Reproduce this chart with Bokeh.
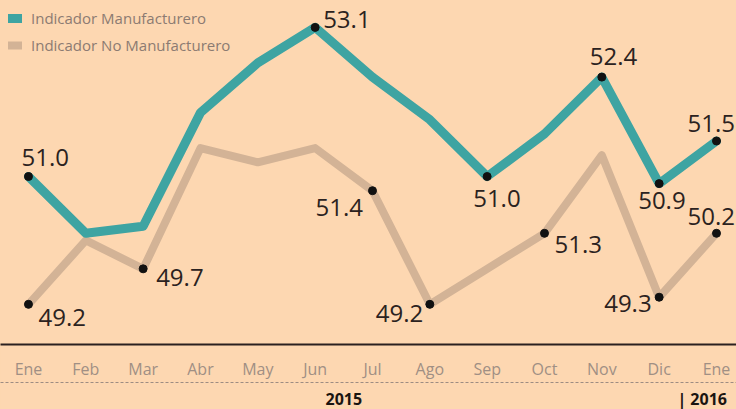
from bokeh.plotting import figure
from bokeh.models import Range1d, LinearAxis, FixedTicker, Legend, LegendItem, ColumnDataSource
from bokeh.core.properties import value
from bokeh.embed import file_html
from bokeh.resources import INLINE

# ---- data ----
months = ["Ene", "Feb", "Mar", "Abr", "May", "Jun", "Jul", "Ago", "Sep", "Oct", "Nov", "Dic", "Ene"]
manuf = [51.0, 50.2, 50.3, 51.9, 52.6, 53.1, 52.4, 51.8, 51.0, 51.6, 52.4, 50.9, 51.5]
no_manuf = [49.2, 50.1, 49.7, 51.4, 51.2, 51.4, 50.8, 49.2, 49.7, 50.2, 51.3, 49.3, 50.2]
manuf_label_idx = [0, 5, 8, 10, 11, 12]
manuf_labels = ["51.0", "53.1", "51.0", "52.4", "50.9", "51.5"]
no_manuf_label_idx = [0, 2, 6, 7, 9, 11, 12]
no_manuf_labels = ["49.2", "49.7", "51.4", "49.2", "51.3", "49.3", "50.2"]
years = ["2015", "| 2016"]
series_names = ["Indicador Manufacturero", "Indicador No Manufacturero"]

# ---- styles ----
BG = "#fdd7b1"
TEAL = "#3ea4a2"
TAN = "#d3b396"
FONT = "Open Sans"
manuf_dx = [-7, 8, -14, -12, -21, -29]
manuf_dy = [-19, -8, 22, -21, 17, -18]
no_manuf_dx = [10, 13, -57, -54, 10, -55, -29]
no_manuf_dy = [13, 9, 17, 9, 11, 6, -17]

xs = list(range(len(months)))

p = figure(frame_width=736, frame_height=344, output_backend="svg", toolbar_location=None,
           x_range=Range1d(-0.488, 12.349), y_range=Range1d(48.634, 53.479),
           x_axis_type=None, y_axis_type=None, min_border=0)
p.background_fill_color = BG
p.border_fill_color = BG
p.outline_line_color = None
p.xgrid.visible = False
p.ygrid.visible = False

r2 = p.line(xs, no_manuf, line_color=TAN, line_width=8, line_join="round", line_cap="round")
r1 = p.line(xs, manuf, line_color=TEAL, line_width=9, line_join="round", line_cap="round")

src1 = ColumnDataSource(dict(x=[xs[i] for i in manuf_label_idx], y=[manuf[i] for i in manuf_label_idx],
                             t=manuf_labels, dx=manuf_dx, dy=manuf_dy))
src2 = ColumnDataSource(dict(x=[xs[i] for i in no_manuf_label_idx], y=[no_manuf[i] for i in no_manuf_label_idx],
                             t=no_manuf_labels, dx=no_manuf_dx, dy=no_manuf_dy))
for s in (src1, src2):
    p.scatter("x", "y", source=s, size=8, color="#111111")
    p.text("x", "y", text="t", source=s, x_offset="dx", y_offset="dy",
           text_font=value(FONT), text_font_size="24px", text_color="#2b2220",
           text_baseline="middle", text_align="left")

legend = Legend(items=[LegendItem(label=series_names[0], renderers=[r1]),
                       LegendItem(label=series_names[1], renderers=[r2])],
                location="top_left")
legend.background_fill_alpha = 0
legend.border_line_color = None
legend.margin = 8
legend.padding = 0
legend.glyph_width = 14
legend.glyph_height = 18
legend.label_height = 18
legend.spacing = 7
legend.label_standoff = 9
legend.label_text_font = FONT
legend.label_text_font_size = "15px"
legend.label_text_color = "#8c7b72"
p.add_layout(legend)

# month axis
ax = LinearAxis(ticker=FixedTicker(ticks=xs))
ax.major_label_overrides = {i: m for i, m in enumerate(months)}
ax.axis_line_color = "#2a2020"
ax.axis_line_width = 2
ax.major_tick_line_color = None
ax.minor_tick_line_color = None
ax.major_tick_out = 0
ax.major_tick_in = 0
ax.major_label_standoff = 13
ax.major_label_text_font = FONT
ax.major_label_text_font_size = "16px"
ax.major_label_text_color = "#a08f84"
p.add_layout(ax, "below")

# year axis
year_ticks = [5.5, 11.75]
ay = LinearAxis(ticker=FixedTicker(ticks=year_ticks))
ay.major_label_overrides = {t: y for t, y in zip(year_ticks, years)}
ay.axis_line_color = "#9d8c82"
ay.axis_line_width = 1
ay.axis_line_dash = "3 2"
ay.major_tick_line_color = None
ay.minor_tick_line_color = None
ay.major_tick_out = 0
ay.major_tick_in = 0
ay.major_label_standoff = 5
ay.major_label_text_font = FONT
ay.major_label_text_font_size = "16px"
ay.major_label_text_font_style = "bold"
ay.major_label_text_color = "#1a1410"
p.add_layout(ay, "below")

html = file_html(p, INLINE)
html = html.replace("<head>", "<head><style>body{background:%s;}</style>" % BG, 1)
open("out.html", "w").write(html)
